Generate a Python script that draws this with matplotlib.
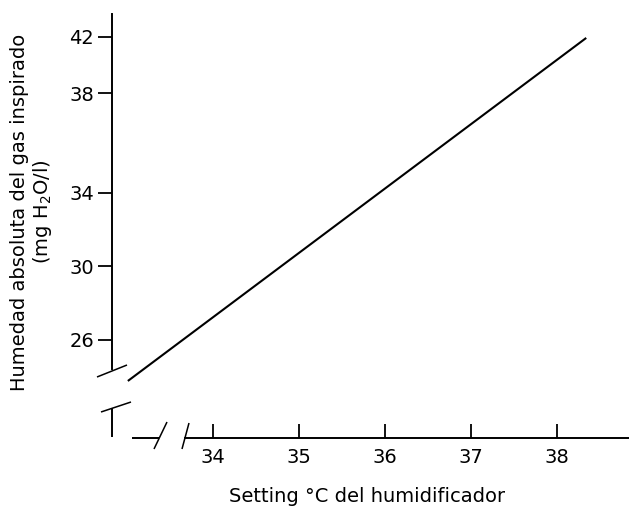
#! /usr/bin/env python3
# -*- coding: utf-8 -*-

import numpy as np
import matplotlib
matplotlib.use('Agg')
import matplotlib.pyplot as plt

# data
setting_c = np.array([33.01, 38.34])
humidity = np.array([23.77, 42.44])
x_ticks = [34, 35, 36, 37, 38]
y_labels = ['26', '30', '34', '38', '42']
# where the labels sit on the (hand-drawn) axis
y_tick_pos = [26, 30, 34, 39.44, 42.49]

W, H = 629, 507
AX_L, AX_R, AX_T, AX_B = 112, 629, 14, 438


def px(xp, yp):
    # pixel of the picture -> axes fraction
    return (xp - AX_L) / (AX_R - AX_L), (AX_B - yp) / (AX_B - AX_T)


def seg(ax, p0, p1, lw=1.4):
    a = px(*p0)
    b = px(*p1)
    ax.plot([a[0], b[0]], [a[1], b[1]], color='black', lw=lw,
            transform=ax.transAxes, clip_on=False, solid_capstyle='butt')


def main():
    plt.rcParams['font.family'] = ['DejaVu Sans']
    plt.rcParams['mathtext.default'] = 'regular'

    fig = plt.figure(figsize=(W / 100, H / 100), dpi=100)
    ax = fig.add_axes([AX_L / W, (H - AX_B) / H,
                       (AX_R - AX_L) / W, (AX_B - AX_T) / H])

    ax.plot(setting_c, humidity, color='black', lw=1.5,
            solid_capstyle='butt')

    ax.set_xlim(34 - 101 / 86, 34 + 416 / 86)
    ax.set_ylim(26 - 98 / 18.375, 26 + 326 / 18.375)

    for s in ['top', 'right']:
        ax.spines[s].set_visible(False)
    ax.spines['left'].set_linewidth(1.4)
    ax.spines['bottom'].set_linewidth(1.4)
    ax.spines['left'].set_bounds(26 - 29 / 18.375, 26 + 326 / 18.375)
    ax.spines['bottom'].set_bounds(34 - 28 / 86, 34 + 416 / 86)

    ax.set_xticks(x_ticks)
    ax.set_yticks(y_tick_pos, labels=y_labels)
    ax.tick_params(axis='x', direction='in', length=10, width=1.3,
                   pad=7, labelsize=14)
    ax.tick_params(axis='y', direction='out', length=10, width=1.3,
                   pad=3, labelsize=14)

    # broken axes
    seg(ax, (112, 408), (112, 437))
    seg(ax, (132, 438), (159, 438))
    seg(ax, (97, 377), (127, 365), lw=1.1)
    seg(ax, (101, 412), (131, 402), lw=1.1)
    seg(ax, (154, 449), (167, 422), lw=1.1)
    seg(ax, (182, 449), (189, 423), lw=1.1)

    fig.text(367 / W, 1 - 496 / H, 'Setting °C del humidificador',
             ha='center', va='center', fontsize=14)
    fig.text(32 / W, 1 - 212 / H,
             'Humedad absoluta del gas inspirado\n(mg H$_2$O/l)',
             ha='center', va='center', rotation=90, fontsize=14,
             multialignment='center', linespacing=1.1)

    fig.savefig('out.png', dpi=100)


if __name__ == '__main__':
    main()
